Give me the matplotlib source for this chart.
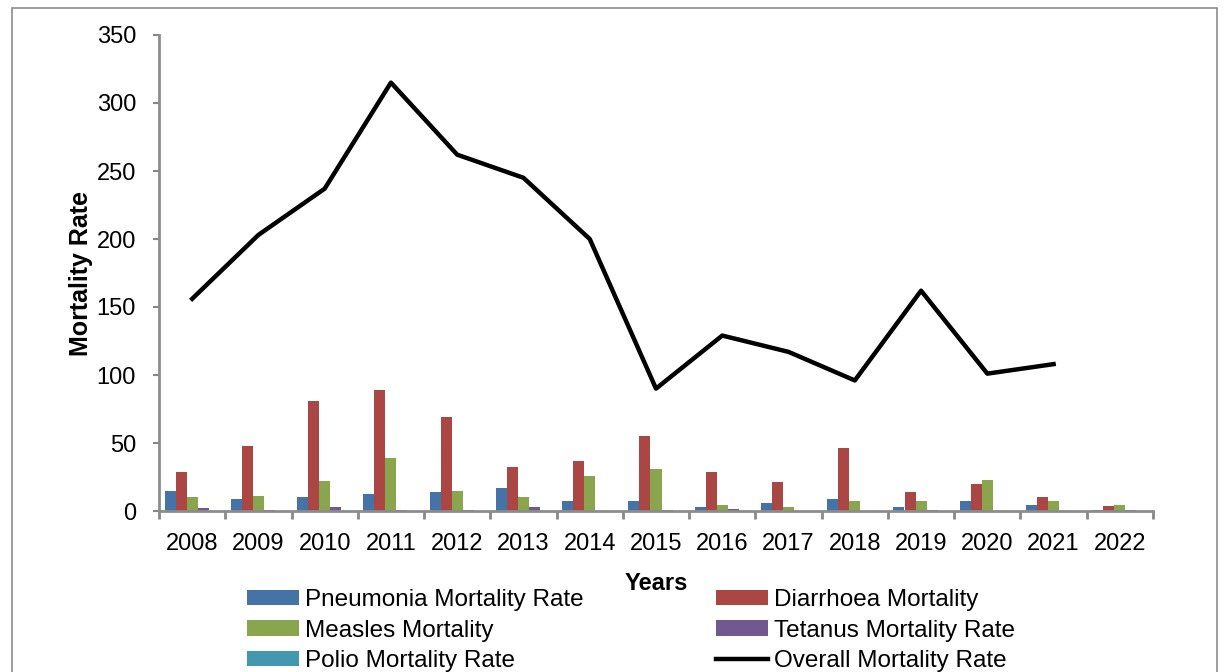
import matplotlib.pyplot as plt
import matplotlib.patches as mpatches
import numpy as np

years = ["2008", "2009", "2010", "2011", "2012", "2013", "2014", "2015",
         "2016", "2017", "2018", "2019", "2020", "2021", "2022"]

pneumonia = [15, 9, 10, 12.5, 14, 17, 7, 7, 3, 6, 9, 3, 7, 4.5, 1]
diarrhoea = [29, 48, 81, 89, 69, 32, 37, 55, 29, 21, 46, 14, 20, 10, 4]
measles = [10, 11, 22, 39, 15, 10, 26, 31, 4.5, 3, 7, 7, 23, 7.5, 4.5]
tetanus = [2, 0.8, 3, 0.7, 0.8, 3, 0, 1, 1.5, 0, 0, 0.4, 0, 0, 0.5]
polio = [0, 0, 0, 0, 0, 0, 0, 0, 0, 0, 0, 0, 0, 0, 0]
overall = [156, 203, 237, 315, 262, 245, 200, 90, 129, 117, 96, 162, 101, 108, np.nan]

series = [
    ("Pneumonia Mortality Rate", pneumonia, "#4572A7"),
    ("Diarrhoea Mortality", diarrhoea, "#AA4643"),
    ("Measles Mortality", measles, "#89A54E"),
    ("Tetanus Mortality Rate", tetanus, "#71588F"),
    ("Polio Mortality Rate", polio, "#4198AF"),
]

plt.rcParams['font.family'] = ['Liberation Sans', 'DejaVu Sans']

W, H = 1225, 672
fig = plt.figure(figsize=(W / 100, H / 100), dpi=100)
ax = fig.add_axes([159 / W, 1 - 511 / H, (1153 - 159) / W, (511 - 35) / H])

x = np.arange(len(years))
bw = 1 / 6
handles = {}
for i, (name, vals, col) in enumerate(series):
    b = ax.bar(x + (i - 2) * bw, vals, width=bw, color=col, label=name, zorder=2)
    handles[name] = b

line, = ax.plot(x, overall, color="black", linewidth=3.2, label="Overall Mortality Rate", zorder=3)

ax.set_xlim(-0.5, len(years) - 0.5)
ax.set_ylim(0, 350)
ax.set_yticks(np.arange(0, 351, 50))

# category boundaries as major ticks, labels at centres
ax.set_xticks(np.arange(-0.5, len(years), 1))
ax.set_xticklabels([])
ax.set_xticks(x, minor=True)
ax.set_xticklabels(years, minor=True)
ax.tick_params(axis="x", which="major", length=6, width=2, color="#888888", direction="out")
ax.tick_params(axis="x", which="minor", length=0, pad=16, labelsize=17)
ax.tick_params(axis="y", length=4.5, width=1.5, color="#888888", pad=12, labelsize=17)

for s in ["top", "right"]:
    ax.spines[s].set_visible(False)
for s in ["left", "bottom"]:
    ax.spines[s].set_color("#8c8c8c")
    ax.spines[s].set_linewidth(2)

ax.set_ylabel("Mortality Rate", fontsize=18, fontweight="bold", labelpad=3)
fig.text(656 / W, 1 - 583 / H, "Years", fontsize=17, fontweight="bold", ha="center", va="center")

# outer chart frame
frame = mpatches.Rectangle((12 / W, -0.1), (1217 - 12) / W, 1 - 8 / H + 0.1,
                           transform=fig.transFigure, fill=False,
                           edgecolor="#8c8c8c", linewidth=1.2)
fig.patches.append(frame)

leg_kw = dict(loc="upper left", frameon=False, fontsize=17.5, borderpad=0,
              borderaxespad=0, handlelength=2.15, handleheight=0.62,
              handletextpad=0.25, labelspacing=0.35)
fig.legend([handles["Pneumonia Mortality Rate"], handles["Measles Mortality"],
            handles["Polio Mortality Rate"]],
           ["Pneumonia Mortality Rate", "Measles Mortality", "Polio Mortality Rate"],
           bbox_to_anchor=(247 / W, 1 - 589 / H), **leg_kw)
fig.legend([handles["Diarrhoea Mortality"], handles["Tetanus Mortality Rate"], line],
           ["Diarrhoea Mortality", "Tetanus Mortality Rate", "Overall Mortality Rate"],
           bbox_to_anchor=(716 / W, 1 - 589 / H), **leg_kw)

fig.savefig("out.png", dpi=100)
